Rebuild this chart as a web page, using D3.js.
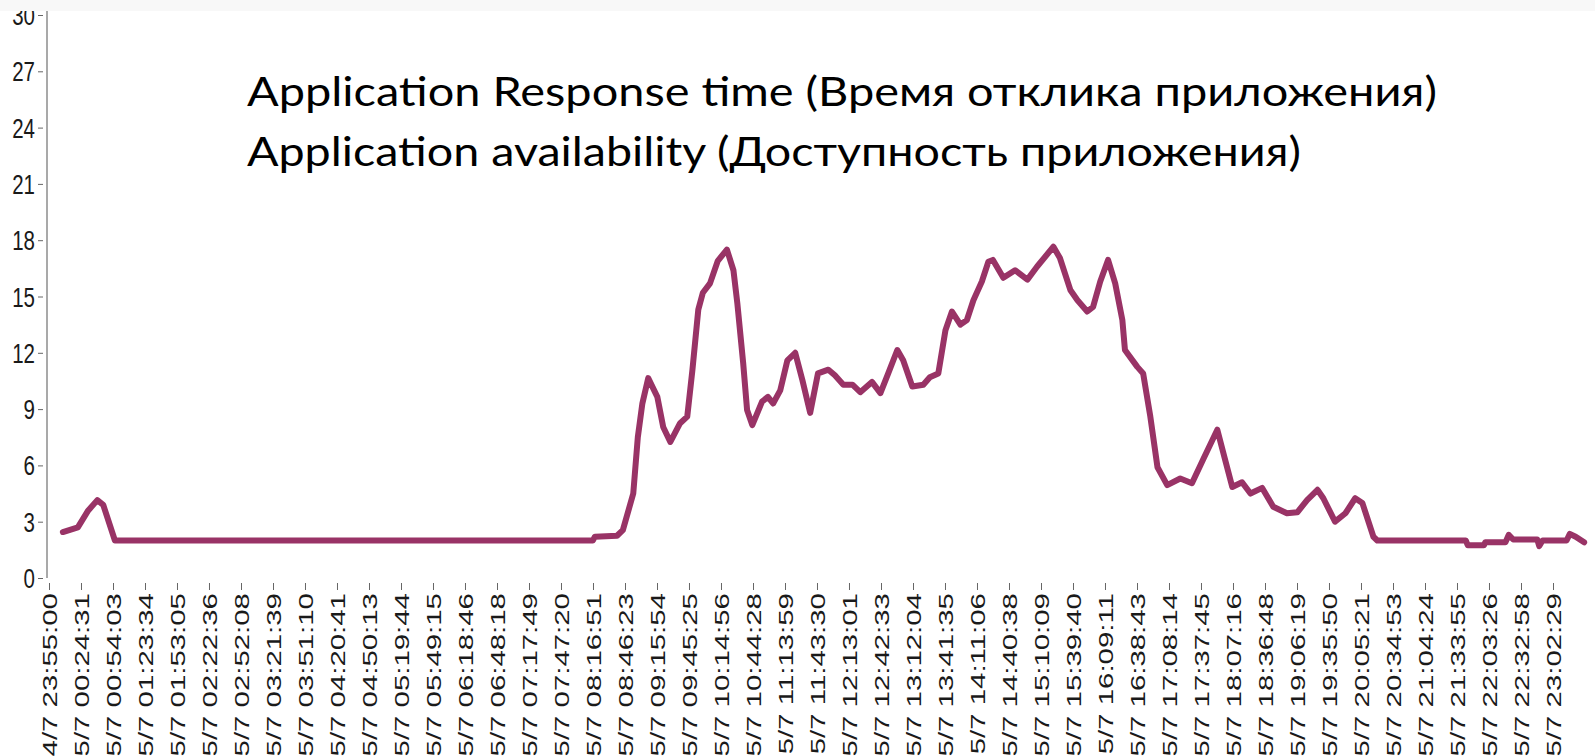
<!DOCTYPE html>
<html lang="ru">
<head>
<meta charset="UTF-8">
<title>Application Response time</title>
<script src="https://d3js.org/d3.v7.min.js"></script>
<style>
  body {
    margin: 0;
    background: #fff;
  }
  svg {
    display: block;
  }
  .axis text {
    font-family: "Liberation Sans", Arial, sans-serif;
    fill: #1a1a1a;
  }
  .title {
    font-family: Lato, "Open Sans", sans-serif;
    font-size: 40px;
    fill: #000;
  }
</style>
</head>
<body>
<div id="chart"></div>
<script>

// ------ data ------

const titleLines = [
  "Application Response time (Время отклика приложения)",
  "Application availability (Доступность приложения)"
];

const tickLabels = [
  "4/7 23:55:00", "5/7 00:24:31", "5/7 00:54:03", "5/7 01:23:34", "5/7 01:53:05",
  "5/7 02:22:36", "5/7 02:52:08", "5/7 03:21:39", "5/7 03:51:10", "5/7 04:20:41",
  "5/7 04:50:13", "5/7 05:19:44", "5/7 05:49:15", "5/7 06:18:46", "5/7 06:48:18",
  "5/7 07:17:49", "5/7 07:47:20", "5/7 08:16:51", "5/7 08:46:23", "5/7 09:15:54",
  "5/7 09:45:25", "5/7 10:14:56", "5/7 10:44:28", "5/7 11:13:59", "5/7 11:43:30",
  "5/7 12:13:01", "5/7 12:42:33", "5/7 13:12:04", "5/7 13:41:35", "5/7 14:11:06",
  "5/7 14:40:38", "5/7 15:10:09", "5/7 15:39:40", "5/7 16:09:11", "5/7 16:38:43",
  "5/7 17:08:14", "5/7 17:37:45", "5/7 18:07:16", "5/7 18:36:48", "5/7 19:06:19",
  "5/7 19:35:50", "5/7 20:05:21", "5/7 20:34:53", "5/7 21:04:24", "5/7 21:33:55",
  "5/7 22:03:26", "5/7 22:32:58", "5/7 23:02:29"
];

const yTicks = [0, 3, 6, 9, 12, 15, 18, 21, 24, 27, 30];

// sample time, hours since 5/7 00:00
const sampleHours = [
  0.13, 0.36, 0.52, 0.66, 0.75, 0.93, 8.28, 8.31, 8.65, 8.74,
  8.90, 8.97, 9.04, 9.13, 9.27, 9.36, 9.47, 9.62, 9.73, 9.81,
  9.90, 9.97, 10.08, 10.20, 10.34, 10.44, 10.50, 10.59, 10.65, 10.73,
  10.88, 10.97, 11.05, 11.16, 11.27, 11.39, 11.50, 11.62, 11.74, 11.90,
  12.00, 12.13, 12.27, 12.39, 12.57, 12.70, 12.82, 12.96, 13.05, 13.19,
  13.36, 13.46, 13.59, 13.70, 13.80, 13.93, 14.03, 14.13, 14.26, 14.36,
  14.43, 14.59, 14.77, 14.96, 15.11, 15.36, 15.46, 15.62, 15.73, 15.88,
  15.97, 16.08, 16.20, 16.31, 16.42, 16.46, 16.65, 16.74, 16.85, 16.96,
  17.11, 17.31, 17.49, 17.66, 17.88, 18.00, 18.11, 18.26, 18.39, 18.57,
  18.74, 18.95, 19.11, 19.26, 19.42, 19.51, 19.69, 19.85, 20.00, 20.11,
  20.28, 20.34, 21.70, 21.73, 21.98, 22.00, 22.31, 22.36, 22.43, 22.80,
  22.83, 22.88, 23.25, 23.30, 23.39, 23.52
];

// response time, seconds
const responseTimes = [
  2.45, 2.7, 3.6, 4.15, 3.9, 2.0, 2.0, 2.2, 2.25, 2.55,
  4.5, 7.5, 9.3, 10.65, 9.65, 8.05, 7.25, 8.25, 8.6, 11.1,
  14.3, 15.2, 15.7, 16.9, 17.5, 16.4, 14.65, 11.45, 8.95, 8.15,
  9.4, 9.65, 9.3, 10.0, 11.6, 12.0, 10.55, 8.8, 10.9, 11.1,
  10.8, 10.3, 10.3, 9.9, 10.45, 9.85, 10.9, 12.15, 11.6, 10.2,
  10.3, 10.7, 10.9, 13.2, 14.2, 13.5, 13.75, 14.8, 15.8, 16.85,
  16.95, 16.0, 16.4, 15.9, 16.6, 17.65, 17.05, 15.35, 14.8, 14.2,
  14.45, 15.8, 16.95, 15.7, 13.75, 12.15, 11.25, 10.9, 8.6, 5.9,
  4.95, 5.3, 5.05, 6.3, 7.9, 6.3, 4.85, 5.1, 4.5, 4.8,
  3.8, 3.45, 3.5, 4.15, 4.7, 4.25, 3.0, 3.45, 4.25, 4.0,
  2.2, 2.0, 2.0, 1.75, 1.75, 1.9, 1.9, 2.3, 2.05, 2.05,
  1.7, 2.0, 2.0, 2.35, 2.2, 1.9
];

// ------ chart ------

const width = 1595;
const height = 756;

function labelHours(s) {
  const [day, time] = s.split(" ");
  const [hh, mm, ss] = time.split(":").map(Number);
  const h = hh + mm / 60 + ss / 3600;
  return day.startsWith("4/") ? h - 24 : h;
}

const tickHours = tickLabels.map(labelHours);

const x = d3.scaleLinear()
  .domain([tickHours[0], tickHours[tickHours.length - 1]])
  .range([49, 1553]);

const y = d3.scaleLinear()
  .domain([0, 30])
  .range([578, 15]);

const svg = d3.select("#chart")
  .append("svg")
    .attr("width", width)
    .attr("height", height);

// y axis
const yAxis = svg.append("g")
    .attr("class", "axis")
    .attr("transform", "translate(47,0)")
    .call(d3.axisLeft(y).tickValues(yTicks).tickSize(0).tickPadding(12));

yAxis.select(".domain").remove();
yAxis.append("line")
    .attr("x1", 0).attr("x2", 0)
    .attr("y1", 10).attr("y2", y(0))
    .attr("stroke", "#8c8c8c")
    .attr("stroke-width", 1.5);
yAxis.selectAll(".tick").append("line")
    .attr("x1", -9).attr("x2", -4)
    .attr("stroke", "#666");
yAxis.selectAll(".tick text")
    .attr("font-size", 20.5)
    .attr("x", -12)
    .attr("dy", "0.34em")
    .attr("transform", "scale(1,1.37)");

// x axis
const xAxis = svg.append("g")
    .attr("class", "axis")
    .attr("transform", "translate(0,583)")
    .call(d3.axisBottom(x)
      .tickValues(tickHours)
      .tickFormat((d, i) => tickLabels[i])
      .tickSize(7));

xAxis.select(".domain").remove();
xAxis.selectAll(".tick line").attr("stroke", "#666");
xAxis.selectAll(".tick text")
    .attr("font-size", 21)
    .attr("text-anchor", "end")
    .attr("x", -7.2)
    .attr("y", 0)
    .attr("dy", "0.36em")
    .attr("transform", "rotate(-90) scale(1.4,1)");

// response time line
const points = sampleHours.map((h, i) => [h, responseTimes[i]]);

svg.append("path")
    .datum(points)
    .attr("fill", "none")
    .attr("stroke", "#993366")
    .attr("stroke-width", 6)
    .attr("stroke-linejoin", "round")
    .attr("stroke-linecap", "round")
    .attr("d", d3.line().x(d => x(d[0])).y(d => y(d[1])));

// text overlay
const titleWidths = [1190, 1054];
svg.selectAll("text.title")
  .data(titleLines)
  .join("text")
    .attr("class", "title")
    .attr("x", 247)
    .attr("y", (d, i) => 106 + i * 60)
    .attr("textLength", (d, i) => titleWidths[i])
    .attr("lengthAdjust", "spacingAndGlyphs")
    .text(d => d);

// top edge of the cropped screenshot
svg.append("rect")
    .attr("x", 0).attr("y", 0)
    .attr("width", width).attr("height", 11)
    .attr("fill", "#f8f8f8");

</script>
</body>
</html>
